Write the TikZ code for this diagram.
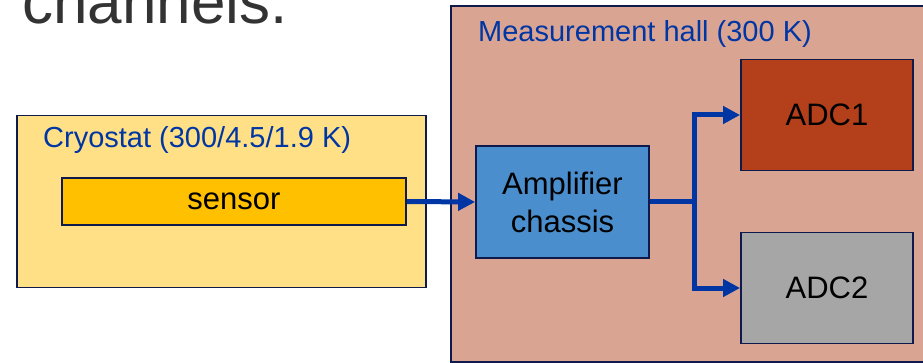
\documentclass[tikz,border=0pt]{standalone}
\usepackage{fontspec}
\setmainfont{Liberation Sans}
\usetikzlibrary{arrows.meta}
\definecolor{navy}{HTML}{0E1A4C}
\definecolor{arrowblue}{HTML}{0036A3}
\definecolor{cryofill}{HTML}{FFE086}
\definecolor{sensorfill}{HTML}{FFC000}
\definecolor{hallfill}{HTML}{DAA493}
\definecolor{ampfill}{HTML}{4A8ECD}
\definecolor{adconefill}{HTML}{B43F1B}
\definecolor{adctwofill}{HTML}{A6A6A6}
\definecolor{titlegray}{HTML}{333333}
\tikzset{
  boxstyle/.style={draw=navy, line width=1.8pt, rectangle, inner sep=0pt},
  bodytext/.style={font=\fontsize{31}{38}\selectfont, text=black, align=center},
  labeltext/.style={font=\fontsize{29}{34}\selectfont, text=arrowblue, inner sep=0pt},
  arr/.style={draw=arrowblue, line width=5pt, -{Triangle[length=17pt,width=17pt]}},
  lineonly/.style={draw=arrowblue, line width=5pt}
}
\begin{document}
\begin{tikzpicture}[x=1pt,y=-1pt]
\useasboundingbox (0,0) rectangle (923,363);
% title fragment
\node[anchor=base west, inner sep=0pt, text=titlegray, font=\fontsize{62}{70}\selectfont] (title) at (22,24) {channels.};
% containers
\node[boxstyle, fill=cryofill, minimum width=409pt, minimum height=172pt] (cryo) at (221.5,201.5) {};
\node[boxstyle, fill=hallfill, minimum width=490pt, minimum height=356pt] (hall) at (696,184) {};
\node[labeltext, anchor=base west] (cryolabel) at (43,148) {Cryostat (300/4.5/1.9 K)};
\node[labeltext, anchor=base west] (halllabel) at (478,42) {Measurement hall (300 K)};
% blocks
\node[boxstyle, fill=sensorfill, minimum width=344pt, minimum height=47pt, bodytext] (sensor) at (234,201.5) {sensor};
\node[boxstyle, fill=ampfill, minimum width=173pt, minimum height=112pt, bodytext] (amp) at (562.5,202) {Amplifier\\chassis};
\node[boxstyle, fill=adconefill, minimum width=172pt, minimum height=111pt, bodytext] (adc1) at (827,115) {ADC1};
\node[boxstyle, fill=adctwofill, minimum width=172pt, minimum height=111pt, bodytext] (adc2) at (827,288) {ADC2};
% connectors
\coordinate (br) at (694,202);
\draw[arr] (sensor.east) -- (amp.west);
\draw[lineonly] (amp.east) -- (br);
\draw[arr] (br) |- (adc1.west);
\draw[arr] (br) |- (adc2.west);
\end{tikzpicture}
\end{document}
